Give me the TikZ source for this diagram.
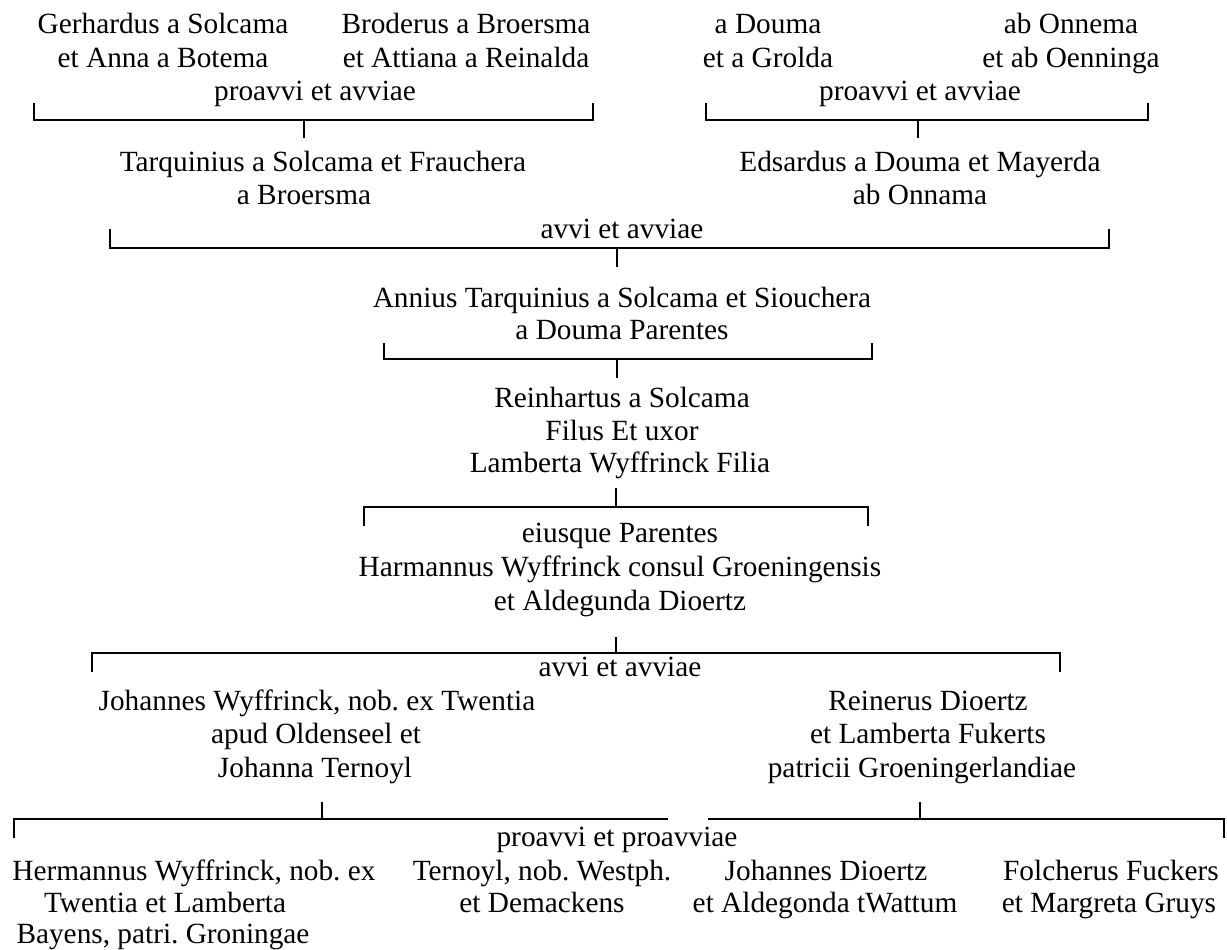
\documentclass[tikz,border=0pt]{standalone}
\usepackage{fontspec}
\setmainfont{Liberation Serif}
\frenchspacing
\begin{document}
\begin{tikzpicture}[x=1pt,y=-1pt,
  txt/.style={anchor=base,inner sep=0pt,font=\fontsize{29.3}{34}\selectfont},
  brk/.style={line width=2.2pt},
  stemline/.style={line width=1.5pt}]
\useasboundingbox (0,0) rectangle (1227,950);
% ---- top left
\node[txt] (g1a) at (163,34) {Gerhardus a Solcama};
\node[txt] (g1b) at (163,67) {et Anna a Botema};
\node[txt] (g2a) at (466,34) {Broderus a Broersma};
\node[txt] (g2b) at (466,67) {et Attiana a Reinalda};
\node[txt] (pa1) at (315,100) {proavvi et avviae};
% ---- top right
\node[txt] (g3a) at (768,34) {a Douma};
\node[txt] (g3b) at (768,67) {et a Grolda};
\node[txt] (g4a) at (1071,34) {ab Onnema};
\node[txt] (g4b) at (1071,67) {et ab Oenninga};
\node[txt] (pa2) at (920,100) {proavvi et avviae};
% ---- grandparents
\node[txt] (t1a) at (323,171) {Tarquinius a Solcama et Frauchera};
\node[txt] (t1b) at (304,204) {a Broersma};
\node[txt] (e1a) at (920,171) {Edsardus a Douma et Mayerda};
\node[txt] (e1b) at (920,204) {ab Onnama};
\node[txt] (av1) at (622,238) {avvi et avviae};
% ---- parents
\node[txt] (an1) at (622,307) {Annius Tarquinius a Solcama et Siouchera};
\node[txt] (an2) at (622,339) {a Douma Parentes};
% ---- couple
\node[txt] (r1) at (622,407) {Reinhartus a Solcama};
\node[txt] (r2) at (622,440) {Filus Et uxor};
\node[txt] (r3) at (620,472) {Lamberta Wyffrinck Filia};
% ---- her parents
\node[txt] (ei1) at (620,542) {eiusque Parentes};
\node[txt] (ei2) at (620,576) {Harmannus Wyffrinck consul Groeningensis};
\node[txt] (ei3) at (620,610) {et Aldegunda Dioertz};
\node[txt] (av2) at (620,676) {avvi et avviae};
\node[txt] (j1) at (317,710) {Johannes Wyffrinck, nob. ex Twentia};
\node[txt] (j2) at (316,743) {apud Oldenseel et};
\node[txt] (j3) at (315,777) {Johanna Ternoyl};
\node[txt] (rd1) at (928,710) {Reinerus Dioertz};
\node[txt] (rd2) at (928,743) {et Lamberta Fukerts};
\node[txt] (rd3) at (922,777) {patricii Groeningerlandiae};
% ---- bottom row
\node[txt] (pp) at (617,846) {proavvi et proavviae};
\node[txt] (h1) at (194,880) {Hermannus Wyffrinck, nob. ex};
\node[txt] (h2) at (165,912) {Twentia et Lamberta};
\node[txt] (h3) at (163,943) {Bayens, patri. Groningae};
\node[txt] (tn1) at (542,880) {Ternoyl, nob. Westph.};
\node[txt] (tn2) at (542,912) {et Demackens};
\node[txt] (jd1) at (826,880) {Johannes Dioertz};
\node[txt] (jd2) at (825,912) {et Aldegonda tWattum};
\node[txt] (ff1) at (1111,880) {Folcherus Fuckers};
\node[txt] (ff2) at (1109,912) {et Margreta Gruys};
% ---- bracket coordinates
\coordinate (b1a) at (34,103);   \coordinate (b1l) at (34,120);
\coordinate (b1r) at (593,120);  \coordinate (b1b) at (593,103);
\coordinate (s1a) at (304,120);  \coordinate (s1b) at (304,138);
\coordinate (b2a) at (706,103);  \coordinate (b2l) at (706,120);
\coordinate (b2r) at (1148,120); \coordinate (b2b) at (1148,103);
\coordinate (s2a) at (918,120);  \coordinate (s2b) at (918,138);
\coordinate (b3a) at (110,229);  \coordinate (b3l) at (110,248);
\coordinate (b3r) at (1109,248); \coordinate (b3b) at (1109,229);
\coordinate (s3a) at (617,248);  \coordinate (s3b) at (617,267);
\coordinate (b4a) at (384,343);  \coordinate (b4l) at (384,359);
\coordinate (b4r) at (872,359);  \coordinate (b4b) at (872,343);
\coordinate (s4a) at (617,359);  \coordinate (s4b) at (617,378);
\coordinate (s5a) at (616,488);  \coordinate (s5b) at (616,507);
\coordinate (b5a) at (364,526);  \coordinate (b5l) at (364,507);
\coordinate (b5r) at (868,507);  \coordinate (b5b) at (868,526);
\coordinate (s6a) at (616,637);  \coordinate (s6b) at (616,653);
\coordinate (b6a) at (92,672);   \coordinate (b6l) at (92,653);
\coordinate (b6r) at (1060,653); \coordinate (b6b) at (1060,672);
\coordinate (s7a) at (322,802);  \coordinate (s7b) at (322,819);
\coordinate (s8a) at (920,802);  \coordinate (s8b) at (920,819);
\coordinate (b7a) at (14,838);   \coordinate (b7l) at (14,819);
\coordinate (b7m) at (668,819);
\coordinate (b8m) at (708,819);  \coordinate (b8r) at (1224,819);
\coordinate (b8b) at (1224,838);
% ---- brackets
\draw[brk] (b1a) -- (b1l) -- (b1r) -- (b1b);
\draw[brk] (b2a) -- (b2l) -- (b2r) -- (b2b);
\draw[brk] (b3a) -- (b3l) -- (b3r) -- (b3b);
\draw[brk] (b4a) -- (b4l) -- (b4r) -- (b4b);
\draw[brk] (b5a) -- (b5l) -- (b5r) -- (b5b);
\draw[brk] (b6a) -- (b6l) -- (b6r) -- (b6b);
\draw[brk] (b7a) -- (b7l) -- (b7m);
\draw[brk] (b8m) -- (b8r) -- (b8b);
% ---- stems
\draw[stemline] (s1a) -- (s1b);
\draw[stemline] (s2a) -- (s2b);
\draw[stemline] (s3a) -- (s3b);
\draw[stemline] (s4a) -- (s4b);
\draw[stemline] (s5a) -- (s5b);
\draw[stemline] (s6a) -- (s6b);
\draw[stemline] (s7a) -- (s7b);
\draw[stemline] (s8a) -- (s8b);
\end{tikzpicture}
\end{document}
